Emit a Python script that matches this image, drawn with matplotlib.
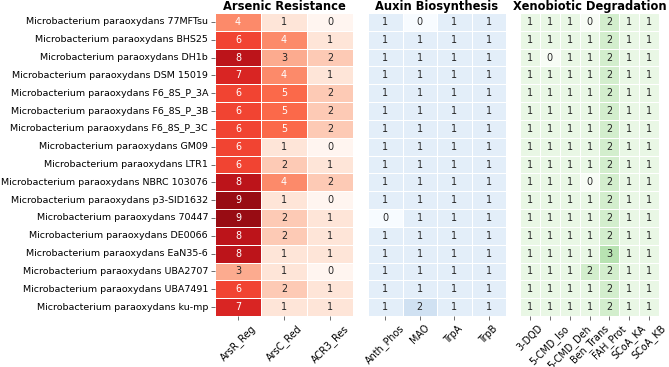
import matplotlib
matplotlib.use("Agg")
from matplotlib import pyplot as plt
import seaborn as sns
import numpy as np

strains = [
    "Microbacterium paraoxydans 77MFTsu",
    "Microbacterium paraoxydans BHS25",
    "Microbacterium paraoxydans DH1b",
    "Microbacterium paraoxydans DSM 15019",
    "Microbacterium paraoxydans F6_8S_P_3A",
    "Microbacterium paraoxydans F6_8S_P_3B",
    "Microbacterium paraoxydans F6_8S_P_3C",
    "Microbacterium paraoxydans GM09",
    "Microbacterium paraoxydans LTR1",
    "Microbacterium paraoxydans NBRC 103076",
    "Microbacterium paraoxydans p3-SID1632",
    "Microbacterium paraoxydans 70447",
    "Microbacterium paraoxydans DE0066",
    "Microbacterium paraoxydans EaN35-6",
    "Microbacterium paraoxydans UBA2707",
    "Microbacterium paraoxydans UBA7491",
    "Microbacterium paraoxydans ku-mp",
]

arsenic_genes = ["ArsR_Reg", "ArsC_Red", "ACR3_Res"]
arsenic = [
    [4, 1, 0], [6, 4, 1], [8, 3, 2], [7, 4, 1], [6, 5, 2], [6, 5, 2],
    [6, 5, 2], [6, 1, 0], [6, 2, 1], [8, 4, 2], [9, 1, 0], [9, 2, 1],
    [8, 2, 1], [8, 1, 1], [3, 1, 0], [6, 2, 1], [7, 1, 1],
]

auxin_genes = ["Anth_Phos", "MAO", "TrpA", "TrpB"]
auxin = [
    [1, 0, 1, 1], [1, 1, 1, 1], [1, 1, 1, 1], [1, 1, 1, 1], [1, 1, 1, 1],
    [1, 1, 1, 1], [1, 1, 1, 1], [1, 1, 1, 1], [1, 1, 1, 1], [1, 1, 1, 1],
    [1, 1, 1, 1], [0, 1, 1, 1], [1, 1, 1, 1], [1, 1, 1, 1], [1, 1, 1, 1],
    [1, 1, 1, 1], [1, 2, 1, 1],
]

xeno_genes = ["3-DQD", "5-CMD_Iso", "5-CMD_Deh", "Ben_Trans", "FAH_Prot",
              "SCoA_KA", "SCoA_KB"]
xeno = [
    [1, 1, 1, 0, 2, 1, 1], [1, 1, 1, 1, 2, 1, 1], [1, 0, 1, 1, 2, 1, 1],
    [1, 1, 1, 1, 2, 1, 1], [1, 1, 1, 1, 2, 1, 1], [1, 1, 1, 1, 2, 1, 1],
    [1, 1, 1, 1, 2, 1, 1], [1, 1, 1, 1, 2, 1, 1], [1, 1, 1, 1, 2, 1, 1],
    [1, 1, 1, 0, 2, 1, 1], [1, 1, 1, 1, 2, 1, 1], [1, 1, 1, 1, 2, 1, 1],
    [1, 1, 1, 1, 2, 1, 1], [1, 1, 1, 1, 3, 1, 1], [1, 1, 1, 2, 2, 1, 1],
    [1, 1, 1, 1, 2, 1, 1], [1, 1, 1, 1, 2, 1, 1],
]

fig = plt.figure(figsize=(6.69, 3.67), dpi=100)

# posicoes em pixels (esquerda, direita) de cada painel
W, H = 669, 367
panels = [
    ("Arsenic Resistance", arsenic, arsenic_genes, "Reds", 215, 353),
    ("Auxin Biosynthesis", auxin, auxin_genes, "Blues", 368, 506),
    ("Xenobiotic Degradation", xeno, xeno_genes, "Greens", 520, 659),
]
top, bottom = 13, 316
fs = 6.9

for i, (title, data, genes, cmap, x0, x1) in enumerate(panels):
    ax = fig.add_axes([x0 / W, 1 - bottom / H, (x1 - x0) / W, (bottom - top) / H])
    sns.heatmap(np.array(data), ax=ax, cmap=cmap, vmin=0, vmax=10,
                annot=True, fmt="d", cbar=False, linewidths=0.5,
                linecolor="white", annot_kws={"fontsize": fs})
    ax.set_title(title, fontsize=8.3, fontweight="bold", pad=2)
    ax.set_xticklabels(genes, rotation=45, fontsize=fs)
    if i == 0:
        ax.set_yticklabels(strains, rotation=0, fontsize=6.8)
    else:
        ax.set_yticks([])
    ax.tick_params(length=3, width=0.6, color="#555555", pad=2)

fig.savefig("out.png", dpi=100)
